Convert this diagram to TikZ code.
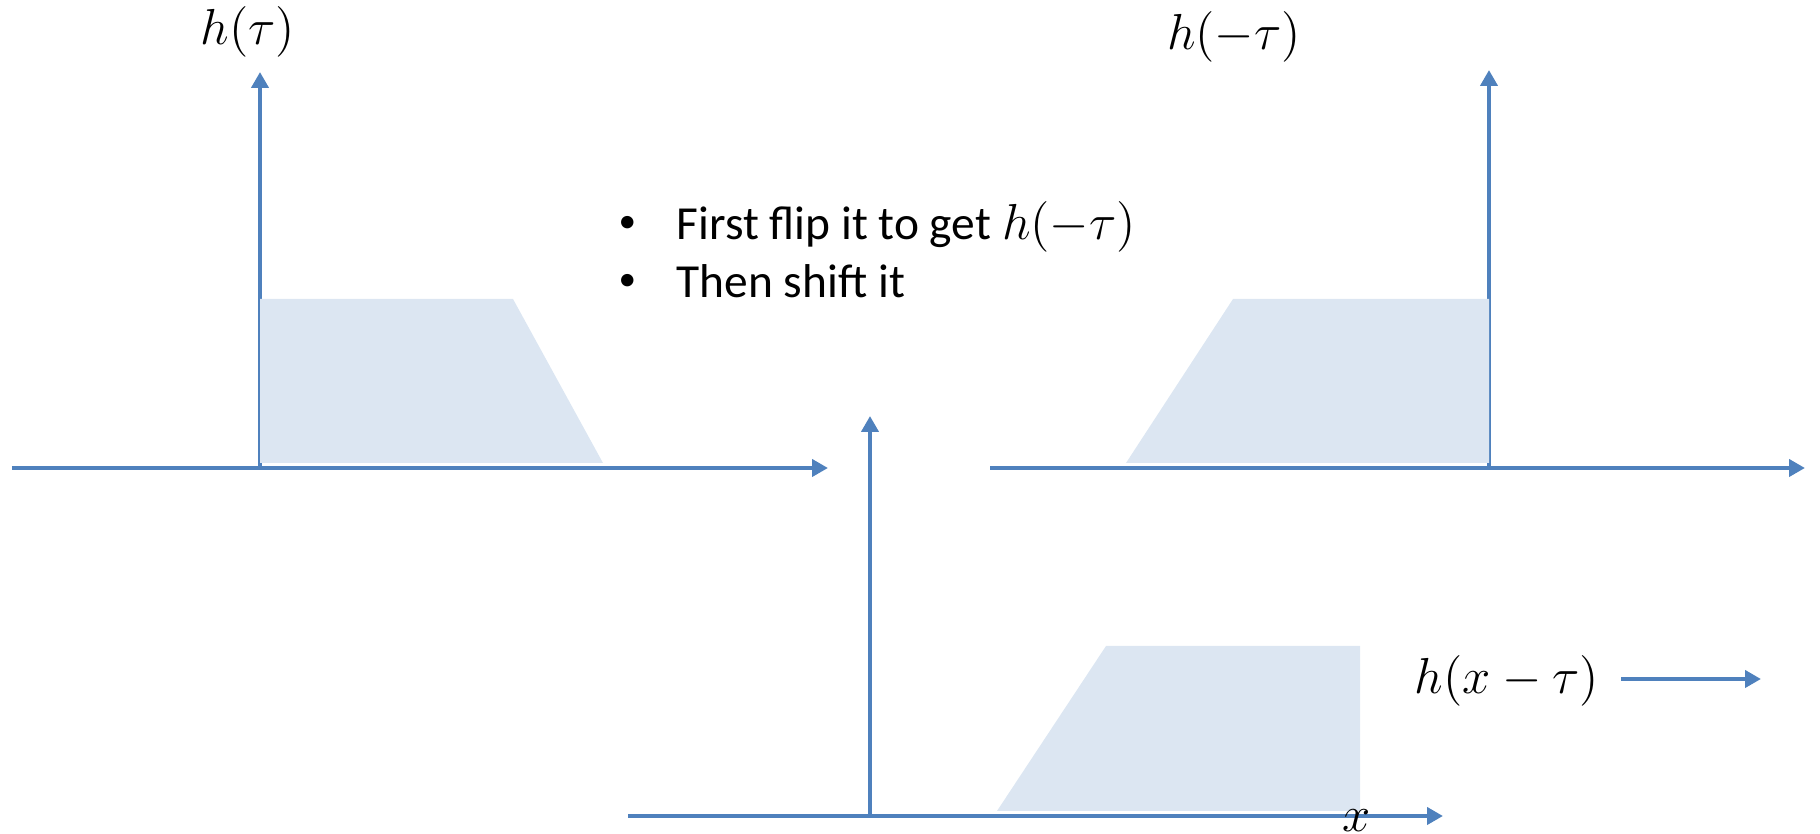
\documentclass[tikz,border=0pt]{standalone}
\usepackage{fontspec}
\setmainfont{Carlito}
\usetikzlibrary{positioning,arrows.meta}
\definecolor{axisblue}{HTML}{4F81BD}
\definecolor{pulsefill}{HTML}{DCE6F2}
\newcommand{\stepdot}{\makebox[0.58cm][l]{\raisebox{0.35ex}{\fontsize{10}{10}\selectfont\textbullet}}}
\begin{document}
\begin{tikzpicture}[
  font=\fontsize{13.5}{16.5}\selectfont,
  >={Triangle[length=1.6mm, width=1.7mm]},
  axis/.style={->, line width=1.4pt, draw=axisblue},
  pulse/.style={fill=pulsefill, draw=none},
  lbl/.style={inner sep=0pt},
  stepline/.style={anchor=base west, inner sep=0pt},
]
\useasboundingbox (0,0) rectangle (18.2,8.34);

% ---- geometry ----
\def\yT{3.66}  \def\yB{0.18}  \def\pT{5.35}  \def\pB{1.88}

% ---- axis end points ----
\coordinate (lx0) at (0.12,\yT);  \coordinate (lx1) at (8.28,\yT);
\coordinate (ly0) at (2.60,\yT);  \coordinate (ly1) at (2.60,7.62);
\coordinate (rx0) at (9.90,\yT);  \coordinate (rx1) at (18.05,\yT);
\coordinate (ry0) at (14.89,\yT); \coordinate (ry1) at (14.89,7.64);
\coordinate (bx0) at (6.28,\yB);  \coordinate (bx1) at (14.43,\yB);
\coordinate (by0) at (8.70,\yB);  \coordinate (by1) at (8.70,4.18);

% ---- axes ----
\draw[axis] (lx0) -- (lx1);
\draw[axis] (ly0) -- (ly1);
\draw[axis] (rx0) -- (rx1);
\draw[axis] (ry0) -- (ry1);
\draw[axis] (bx0) -- (bx1);
\draw[axis] (by0) -- (by1);

% ---- pulses: original, flipped, shifted ----
\fill[pulse] (2.60,3.71) -- (2.60,\pT) -- (5.13,\pT) -- (6.03,3.71) -- cycle;
\fill[pulse] (11.26,3.71) -- (12.33,\pT) -- (14.89,\pT) -- (14.89,3.71) -- cycle;
\fill[pulse] (9.97,0.23) -- (11.06,\pB) -- (13.60,\pB) -- (13.60,0.23) -- cycle;

% ---- labels ----
\node[lbl] (htau)  at (2.48,8.02)  {$h(\tau)$};
\node[lbl] (hmtau) at (12.34,7.97) {$h(-\tau)$};
\node[lbl] (xlbl)  at (13.57,0.13) {$x$};
\node[lbl] (hxtau) at (15.07,1.53) {$h(x-\tau)$};

% ---- shift direction ----
\coordinate (sh0) at (16.21,1.55);
\coordinate (sh1) at (17.61,1.55);
\draw[axis] (sh0) -- (sh1);

% ---- steps ----
\node[stepline] (step1) at (6.18,5.94) {\stepdot First flip it to get $h(-\tau)$};
\node[stepline] (step2) at (6.18,5.36) {\stepdot Then shift it};
\end{tikzpicture}
\end{document}
